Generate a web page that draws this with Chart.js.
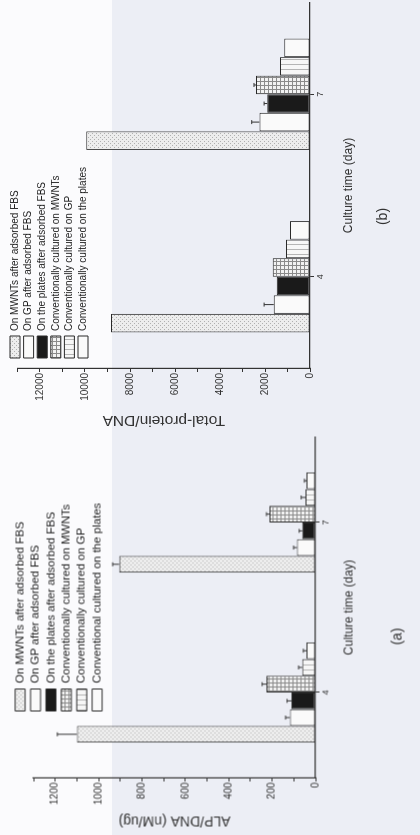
<!DOCTYPE html>
<html>
<head>
<meta charset="utf-8">
<script src="https://cdn.jsdelivr.net/npm/chart.js@4"></script>
<style>
  html, body { margin: 0; padding: 0; }
  body {
    width: 420px; height: 835px; overflow: hidden; position: relative;
    background: linear-gradient(to right, #fbfbfd 0, #fbfbfd 112px, #eceef5 112px, #eceef5 100%);
  }
  .panel { position: absolute; transform: rotate(-90deg); }
  .panel canvas { display: block; }
</style>
</head>
<body>
<div class="panel" style="width:430px;height:420px;left:-5px;top:5px">
  <canvas id="chartB" width="430" height="420"></canvas>
</div>
<div class="panel" style="width:405px;height:420px;left:7.5px;top:422.5px">
  <canvas id="chartA" width="405" height="420"></canvas>
</div>
<script>
// culture days (category axis)
const cultureDays = ['4', '7'];

// legend labels
const namesA = [
    'On MWNTs after adsorbed FBS',
    'On GP after adsorbed FBS',
    'On the plates after adsorbed FBS',
    'Conventionally cultured on MWNTs',
    'Conventionally cultured on GP',
    'Conventional cultured on the plates'
];
const namesB = [
    'On MWNTs after adsorbed FBS',
    'On GP after adsorbed FBS',
    'On the plates after adsorbed FBS',
    'Conventionally cultured on MWNTs',
    'Conventionally cultured on GP',
    'Conventionally cultured on the plates'
];

// (a) ALP/DNA (nM/ug), day 4 and day 7
const alpMwntFbs = [1100, 905];
const alpGpFbs = [118, 85];
const alpPlateFbs = [111, 61];
const alpMwntConv = [226, 212];
const alpGpConv = [61, 46];
const alpPlateConv = [41, 41];
const alpErr = [[90, 30], [20, 16], [20, 14], [20, 14], [17, 20], [15, 10]];

// (b) Total-protein/DNA, day 4 and day 7
const protMwntFbs = [8840, 9950];
const protGpFbs = [1610, 2250];
const protPlateFbs = [1480, 1900];
const protMwntConv = [1660, 2400];
const protGpConv = [1070, 1330];
const protPlateConv = [890, 1150];
const protErr = [[0, 0], [430, 340], [0, 140], [0, 90], [0, 0], [0, 0]];

Chart.defaults.font.family = '"Liberation Sans", Arial, sans-serif';
Chart.defaults.color = '#333';

function makePattern(kind) {
    const c = document.createElement('canvas');
    const g = c.getContext('2d');
    if (kind === 'dots') {
        c.width = 4; c.height = 4;
        g.fillStyle = '#ededed'; g.fillRect(0, 0, 4, 4);
        g.fillStyle = '#b0b0b0'; g.fillRect(0, 0, 1, 1); g.fillRect(2, 2, 1, 1);
    } else if (kind === 'grid') {
        c.width = 4; c.height = 4;
        g.fillStyle = '#f2f2f2'; g.fillRect(0, 0, 4, 4);
        g.fillStyle = '#8a8a8a'; g.fillRect(0, 0, 4, 1); g.fillRect(0, 0, 1, 4);
    } else if (kind === 'vlines') {
        c.width = 5; c.height = 4;
        g.fillStyle = '#f7f7f7'; g.fillRect(0, 0, 5, 4);
        g.fillStyle = '#b5b5b5'; g.fillRect(0, 0, 1, 4);
    }
    return g.createPattern(c, 'repeat');
}

const fills = [makePattern('dots'), '#fafafa', '#1a1a1a', makePattern('grid'), makePattern('vlines'), '#fafafa'];

function buildDatasets(names, series, errs) {
    return names.map((name, i) => ({
        label: name,
        data: series[i],
        errors: errs[i],
        backgroundColor: fills[i],
        borderColor: '#2a2a2a',
        borderWidth: 1,
        borderSkipped: false
    }));
}

// small T-shaped error bars on top of each bar
const errorBars = {
    id: 'errorBars',
    afterDatasetsDraw(chart) {
        const ctx = chart.ctx;
        const y = chart.scales.y;
        ctx.save();
        ctx.strokeStyle = '#333';
        ctx.lineWidth = 1;
        chart.data.datasets.forEach((ds, i) => {
            chart.getDatasetMeta(i).data.forEach((bar, j) => {
                const e = ds.errors[j];
                if (!e) return;
                const top = y.getPixelForValue(ds.data[j] + e);
                ctx.beginPath();
                ctx.moveTo(bar.x, bar.y);
                ctx.lineTo(bar.x, top);
                ctx.moveTo(bar.x - 2, top);
                ctx.lineTo(bar.x + 2, top);
                ctx.stroke();
            });
        });
        ctx.restore();
    }
};

// move the in-plot legend to where the figure has it
// (a chartArea legend is laid out as a column starting at top 0)
const legendShift = {
    id: 'legendShift',
    afterLayout(chart, args, opts) {
        const lg = chart.legend;
        lg.left += opts.dx; lg.right += opts.dx;
        lg.top += opts.dy; lg.bottom += opts.dy;
    }
};

function makeChart(id, cfg) {
    return new Chart(document.getElementById(id), {
        type: 'bar',
        data: { labels: cultureDays, datasets: cfg.datasets },
        options: {
            responsive: false,
            animation: false,
            layout: { padding: cfg.padding },
            datasets: { bar: { categoryPercentage: cfg.catPct, barPercentage: 1 } },
            scales: {
                x: {
                    grid: { drawOnChartArea: false, offset: false, tickLength: 4, color: '#333' },
                    border: { color: '#333', width: 1.2 },
                    ticks: { font: { size: 9 }, padding: 1.5 },
                    title: { display: true, text: 'Culture time (day)', font: { size: 12 }, padding: { top: 0, bottom: cfg.xTitlePad } },
                    afterFit: s => { s.height = cfg.xHeight; }
                },
                y: {
                    min: 0,
                    max: cfg.max,
                    grid: { drawOnChartArea: false, tickLength: 4, color: '#333' },
                    border: { color: '#333', width: 1.2 },
                    ticks: {
                        stepSize: cfg.step,
                        autoSkip: false,
                        padding: 1,
                        font: { size: 10 },
                        callback: v => (v % (cfg.step * 2) === 0 ? v : '')
                    },
                    title: { display: true, text: cfg.yTitle, font: { size: cfg.yTitleSize }, padding: { top: cfg.yTitlePad, bottom: 0 } },
                    afterFit: s => { s.width = cfg.yWidth; }
                }
            },
            plugins: {
                legend: {
                    position: 'chartArea',
                    align: 'start',
                    labels: { boxWidth: 22, boxHeight: 10, font: { size: cfg.legendFont }, padding: cfg.legendPad, color: '#222' }
                },
                legendShift: cfg.shift,
                title: {
                    display: true,
                    position: 'bottom',
                    text: cfg.tag,
                    font: { size: 14, weight: 'normal' },
                    padding: { top: 0, bottom: cfg.tagPad }
                },
                tooltip: { enabled: false }
            }
        },
        plugins: [errorBars, legendShift]
    });
}

makeChart('chartA', {
    datasets: buildDatasets(namesA, [alpMwntFbs, alpGpFbs, alpPlateFbs, alpMwntConv, alpGpConv, alpPlateConv], alpErr),
    padding: { top: 33, right: 7, bottom: 0, left: 0 },
    catPct: 0.59,
    max: 1300,
    step: 100,
    yTitle: 'ALP/DNA (nM/ug)',
    yTitleSize: 14,
    yTitlePad: 6.6,
    yWidth: 58,
    xHeight: 74.2,
    xTitlePad: 33,
    tag: '(a)',
    tagPad: 14,
    legendFont: 11.5,
    legendPad: 3.9,
    shift: { dx: 62.6, dy: 10 }
});

makeChart('chartB', {
    datasets: buildDatasets(namesB, [protMwntFbs, protGpFbs, protPlateFbs, protMwntConv, protGpConv, protPlateConv], protErr),
    padding: { top: 17.5, right: 3, bottom: 0, left: 0 },
    catPct: 0.61,
    max: 13000,
    step: 1000,
    yTitle: 'Total-protein/DNA',
    yTitleSize: 15.5,
    yTitlePad: 0,
    yWidth: 62,
    xHeight: 64.6,
    xTitlePad: 19,
    tag: '(b)',
    tagPad: 28.6,
    legendFont: 10,
    legendPad: 3.6,
    shift: { dx: 6.4, dy: 6.4 }
});
</script>
</body>
</html>
